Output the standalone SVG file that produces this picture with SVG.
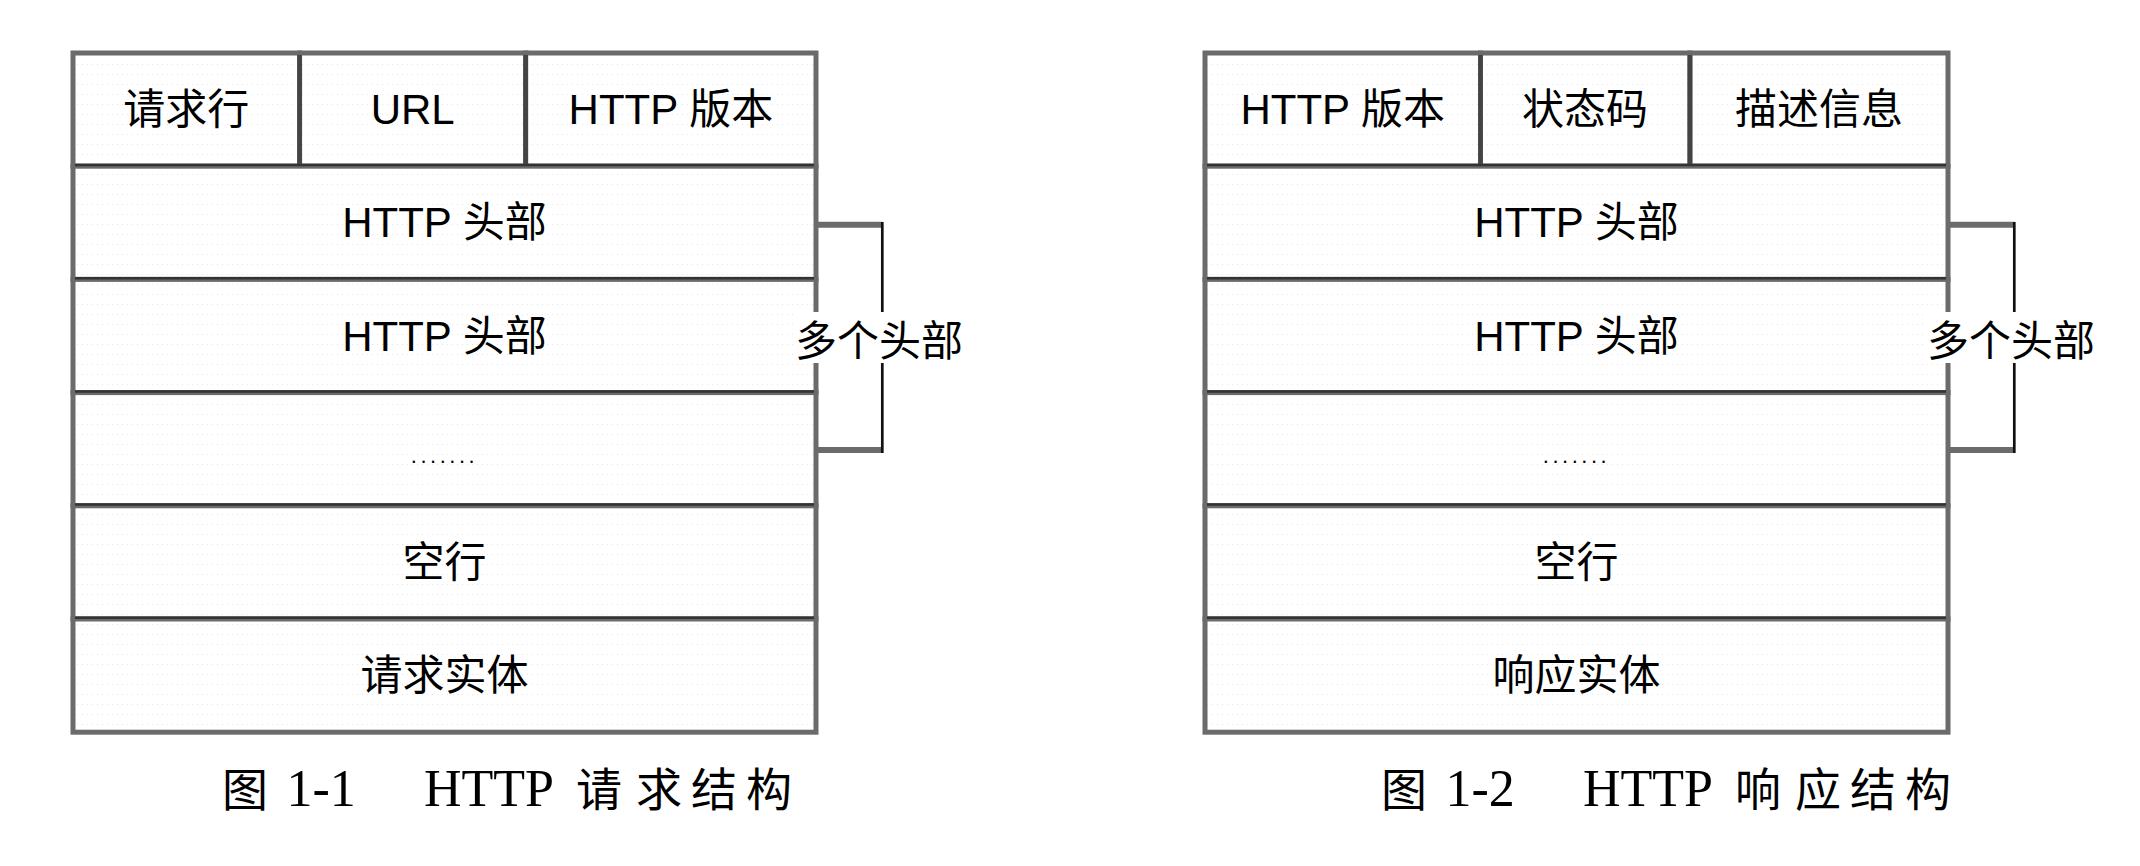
<svg xmlns="http://www.w3.org/2000/svg" width="2140" height="866" viewBox="0 0 2140 866">
<defs>
<pattern id="dots" width="5" height="10" patternUnits="userSpaceOnUse">
<rect width="5" height="10" fill="#ffffff"/>
<rect x="2" y="4" width="1" height="1" fill="#e4e4e4"/>
</pattern>
<style>
.cell{fill:url(#dots);stroke:#6b6b6b;stroke-width:5}
.sep{stroke:#333333;stroke-width:2.5;fill:none}
.col{stroke:#444444;stroke-width:4.5;fill:none}
.t{font-family:"Liberation Sans","Noto Sans CJK SC",sans-serif;font-size:42px;fill:#000;text-anchor:middle}
.dots{font-family:"Liberation Sans",sans-serif;font-size:22px;letter-spacing:3.5px;fill:#000;text-anchor:middle}
.br{stroke:#6b6b6b;stroke-width:6;fill:none}
.bv{stroke:#111111;stroke-width:2.7;fill:none}
.cap{font-family:"Liberation Serif","Noto Sans CJK SC",serif;fill:#000}
.capz{font-size:46px}
.capl{font-size:52px}
</style>
</defs>
<rect width="2140" height="866" fill="#ffffff"/>

<!-- Left diagram: HTTP request -->
<g id="req-line-method"><rect class="cell" x="73" y="53" width="226.6" height="113.2"/><text class="t" x="186.3" y="124.1">请求行</text></g>
<g id="req-line-url"><rect class="cell" x="299.6" y="53" width="226.1" height="113.2"/><text class="t" x="412.7" y="124.1">URL</text></g>
<g id="req-line-version"><rect class="cell" x="525.7" y="53" width="290.3" height="113.2"/><text class="t" x="670.9" y="124.1">HTTP 版本</text></g>
<g id="req-header-1"><rect class="cell" x="73" y="166.2" width="743" height="113.2"/><text class="t" x="444.5" y="237.3">HTTP 头部</text></g>
<g id="req-header-2"><rect class="cell" x="73" y="279.4" width="743" height="113.2"/><text class="t" x="444.5" y="350.5">HTTP 头部</text></g>
<g id="req-header-more"><rect class="cell" x="73" y="392.6" width="743" height="113.2"/><text class="dots" x="444.5" y="463">.......</text></g>
<g id="req-blank"><rect class="cell" x="73" y="505.8" width="743" height="113.2"/><text class="t" x="444.5" y="576.9">空行</text></g>
<g id="req-body"><rect class="cell" x="73" y="619" width="743" height="113.2"/><text class="t" x="444.5" y="690.1">请求实体</text></g>

<!-- Right diagram: HTTP response -->
<g id="res-line-version"><rect class="cell" x="1205" y="53" width="275.5" height="113.2"/><text class="t" x="1342.7" y="124.1">HTTP 版本</text></g>
<g id="res-line-status"><rect class="cell" x="1480.5" y="53" width="209.5" height="113.2"/><text class="t" x="1585" y="124.1">状态码</text></g>
<g id="res-line-desc"><rect class="cell" x="1690" y="53" width="258" height="113.2"/><text class="t" x="1819" y="124.1">描述信息</text></g>
<g id="res-header-1"><rect class="cell" x="1205" y="166.2" width="743" height="113.2"/><text class="t" x="1576.5" y="237.3">HTTP 头部</text></g>
<g id="res-header-2"><rect class="cell" x="1205" y="279.4" width="743" height="113.2"/><text class="t" x="1576.5" y="350.5">HTTP 头部</text></g>
<g id="res-header-more"><rect class="cell" x="1205" y="392.6" width="743" height="113.2"/><text class="dots" x="1576.5" y="463">.......</text></g>
<g id="res-blank"><rect class="cell" x="1205" y="505.8" width="743" height="113.2"/><text class="t" x="1576.5" y="576.9">空行</text></g>
<g id="res-body"><rect class="cell" x="1205" y="619" width="743" height="113.2"/><text class="t" x="1576.5" y="690.1">响应实体</text></g>

<!-- inner separators (dark tone) -->
<g id="separators">
<path class="sep" d="M75,165 H814 M75,278.2 H814 M75,391.4 H814 M75,504.6 H814 M75,617.8 H814"/>
<path class="col" d="M299.6,55 V164 M525.7,55 V164"/>
<path class="sep" d="M1207,165 H1946 M1207,278.2 H1946 M1207,391.4 H1946 M1207,504.6 H1946 M1207,617.8 H1946"/>
<path class="col" d="M1480.5,55 V164 M1690,55 V164"/>
</g>

<!-- connectors: brackets -->
<g id="connectors">
<path class="br" d="M818,224.7 H882.5 M818,450 H882.5"/>
<path class="bv" d="M882.3,222 V453"/>
<path class="br" d="M1950,224.7 H2014.5 M1950,450 H2014.5"/>
<path class="bv" d="M2014.3,222 V453"/>
</g>

<g id="req-multi-label">
<rect x="795" y="312" width="168" height="51" fill="#ffffff"/>
<text class="t" x="879" y="356">多个头部</text>
</g>
<g id="res-multi-label">
<rect x="1927" y="312" width="168" height="51" fill="#ffffff"/>
<text class="t" x="2011" y="356">多个头部</text>
</g>

<!-- captions -->
<g id="caption-req" class="cap">
<text class="capz" x="222" y="806">图</text>
<text class="capl" x="286.5" y="806">1-1</text>
<text class="capl" x="424" y="806">HTTP</text>
<text class="capz" x="576" y="806">请</text>
<text class="capz" x="636" y="806">求</text>
<text class="capz" x="691" y="806">结</text>
<text class="capz" x="746" y="806">构</text>
</g>
<g id="caption-res" class="cap">
<text class="capz" x="1381" y="806">图</text>
<text class="capl" x="1445.5" y="806">1-2</text>
<text class="capl" x="1583" y="806">HTTP</text>
<text class="capz" x="1735" y="806">响</text>
<text class="capz" x="1795" y="806">应</text>
<text class="capz" x="1850" y="806">结</text>
<text class="capz" x="1905" y="806">构</text>
</g>
</svg>
